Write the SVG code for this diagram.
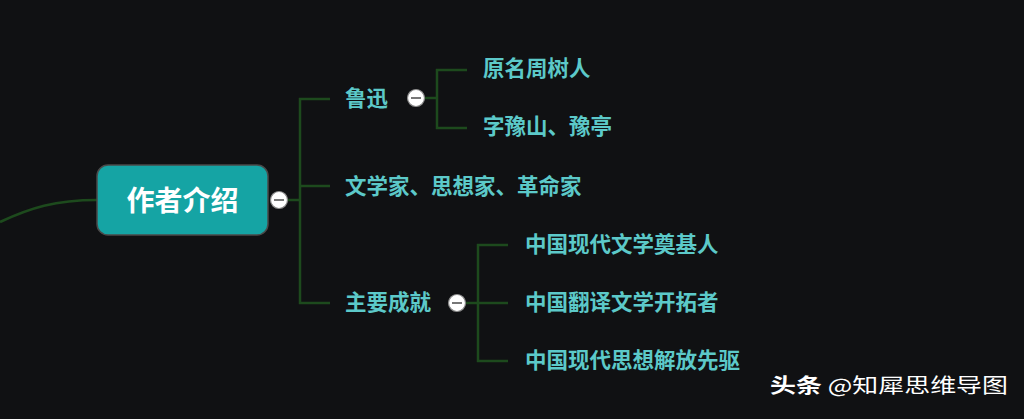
<svg xmlns="http://www.w3.org/2000/svg" width="1024" height="419" viewBox="0 0 1024 419">
<style>
.bg{fill:#101113}
.ln{fill:none;stroke:#1d4a1d;stroke-width:2.5}
.t{font-family:"Noto Sans CJK SC","Noto Sans",sans-serif;font-weight:bold;font-size:21.5px;fill:#5cc9c9}
.root{font-family:"Noto Sans CJK SC","Noto Sans",sans-serif;font-weight:bold;font-size:28px;fill:#ffffff}
.cc{fill:#ffffff;stroke:#8a8a8a;stroke-width:1.2}
.cm{stroke:#777;stroke-width:2}
.wm{font-family:"Noto Sans CJK SC","Noto Sans",sans-serif;font-size:20px;fill:#ffffff}
</style>
<defs>
<g id="collapse"><circle class="cc" r="8.5"/><line class="cm" x1="-5" y1="0" x2="5" y2="0"/></g>
</defs>
<rect class="bg" width="1024" height="419"/>
<g id="connectors">
<path class="ln" d="M0,222 C30,208 55,200 97,200"/>
<path class="ln" d="M287,200 H300 M330,99 H300 V303 H330 M300,186 H330"/>
<path class="ln" d="M425,98 H437 M467,70 H437 V128 H467"/>
<path class="ln" d="M466,303 H508 M508,245 H478 V361 H508"/>
</g>
<g id="root">
<rect x="97" y="165" width="171" height="70" rx="11" fill="#15a4a4" stroke="#4a4a4a" stroke-width="1.5"/>
<text class="root" x="182.5" y="199" text-anchor="middle" dominant-baseline="central">作者介绍</text>
<use href="#collapse" x="279" y="200"/>
</g>
<g id="luxun">
<text class="t" x="345" y="96.5" dominant-baseline="central">鲁迅</text>
<use href="#collapse" x="416" y="98"/>
</g>
<g id="yuanming"><text class="t" x="483" y="66.5" dominant-baseline="central">原名周树人</text></g>
<g id="zi"><text class="t" x="483" y="124.5" dominant-baseline="central">字豫山、豫亭</text></g>
<g id="wenxuejia"><text class="t" x="345" y="184" dominant-baseline="central">文学家、思想家、革命家</text></g>
<g id="chengjiu">
<text class="t" x="345" y="300.5" dominant-baseline="central">主要成就</text>
<use href="#collapse" x="457" y="303"/>
</g>
<g id="c1"><text class="t" x="525" y="242.5" dominant-baseline="central">中国现代文学奠基人</text></g>
<g id="c2"><text class="t" x="525" y="300.5" dominant-baseline="central">中国翻译文学开拓者</text></g>
<g id="c3"><text class="t" x="525" y="358.5" dominant-baseline="central">中国现代思想解放先驱</text></g>
<g id="watermark"><text class="wm" x="770" y="384" dominant-baseline="central" textLength="238" lengthAdjust="spacingAndGlyphs"><tspan font-weight="bold">头条</tspan> @知犀思维导图</text></g>
</svg>
